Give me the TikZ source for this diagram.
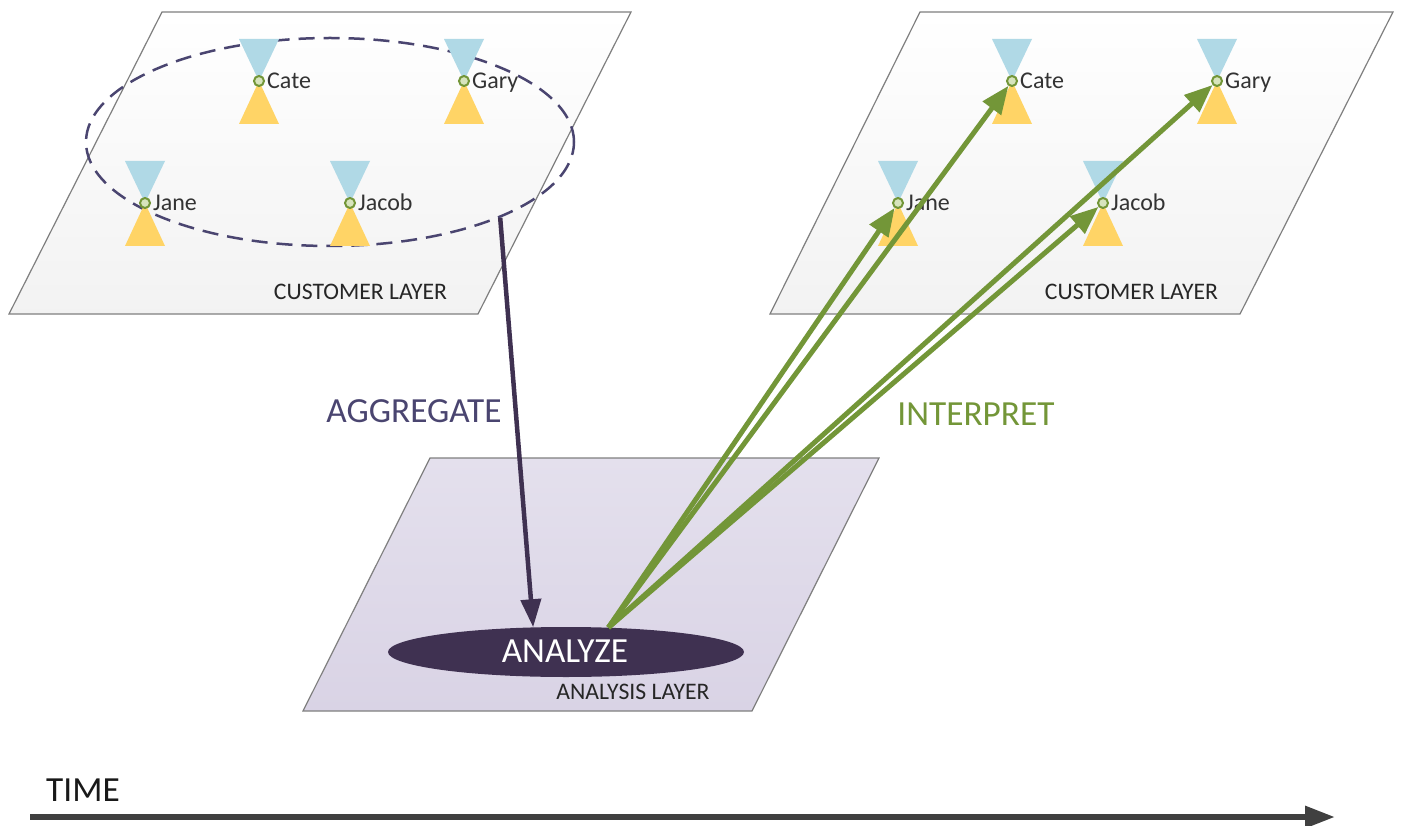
\documentclass[tikz,border=0pt]{standalone}
\usepackage{xcolor}
\usepackage{fontspec}
\setmainfont{Carlito}
\usetikzlibrary{shapes.geometric, arrows.meta}
\definecolor{layergray}{HTML}{7F7F7F}
\definecolor{darkviolet}{HTML}{3F3151}
\definecolor{labelviolet}{HTML}{4A4570}
\definecolor{leafgreen}{HTML}{739638}
\definecolor{topblue}{HTML}{B0D9E6}
\definecolor{lowyellow}{HTML}{FFD466}
\definecolor{dotgreen}{HTML}{D7E4BD}
\definecolor{analysistop}{HTML}{E4E0ED}
\definecolor{analysislow}{HTML}{D9D3E5}
\tikzset{
	layer/.style={draw=layergray, line width=1.2pt, top color=white, bottom color=black!5},
	toptri/.style={fill=topblue},
	lowtri/.style={fill=lowyellow},
	person/.style={circle, draw=leafgreen, fill=dotgreen, line width=2pt, minimum size=10pt, inner sep=0pt},
	namelabel/.style={font=\fontsize{24}{28}\selectfont, text=black!80, inner sep=0pt, anchor=base west},
	layerlabel/.style={font=\fontsize{23.7}{28}\selectfont, text=black!85, inner sep=0pt},
	biglabel/.style={font=\fontsize{35.3}{40}\selectfont, inner sep=0pt},
	aggarrow/.style={draw=darkviolet, line width=4.5pt, -{Triangle[length=28pt, width=20pt]}},
	intarrow/.style={draw=leafgreen, line width=5pt, -{Triangle[length=28pt, width=22pt]}}
}
\newcommand{\hourglass}[4]{
	\fill[toptri] (#2-20,#3-42) -- (#2+20,#3-42) -- (#2,#3) -- cycle;
	\fill[lowtri] (#2,#3) -- (#2+20,#3+43) -- (#2-20,#3+43) -- cycle;
	\node [person] (#1) at (#2,#3) {};
	\node [namelabel] (#1label) at (#2+8,#3+8) {#4};
}

\begin{document}
\begin{tikzpicture}[x=1pt, y=-1pt]
	\useasboundingbox (0,0) rectangle (1402,826);

	\shade[layer] (162,12) -- (631,12) -- (478,314) -- (9,314) -- cycle;
	\shade[layer] (920,12) -- (1393,12) -- (1240,314) -- (770,314) -- cycle;
	\shade[layer, top color=analysistop, bottom color=analysislow] (430,458) -- (879,458) -- (752,711) -- (303,711) -- cycle;

	\node [ellipse, draw=labelviolet, line width=2.5pt, dash pattern=on 16pt off 9pt, minimum width=488pt, minimum height=208pt, inner sep=0pt] (customers) at (330,142) {};

	\hourglass{cateA}{259}{81}{Cate}
	\hourglass{garyA}{464}{81}{Gary}
	\hourglass{janeA}{145}{203}{Jane}
	\hourglass{jacobA}{350}{203}{Jacob}

	\hourglass{cateB}{1012}{81}{Cate}
	\hourglass{garyB}{1217}{81}{Gary}
	\hourglass{janeB}{898}{203}{Jane}
	\hourglass{jacobB}{1103}{203}{Jacob}

	\node [layerlabel] (layerA) at (360.5,292) {CUSTOMER LAYER};
	\node [layerlabel] (layerB) at (1131.5,292) {CUSTOMER LAYER};
	\node [layerlabel] (layerC) at (633,692) {ANALYSIS LAYER};

	\node [ellipse, fill=darkviolet, minimum width=356pt, minimum height=50pt, inner sep=0pt] (analyze) at (566,652) {};
	\node [biglabel, text=white] (analyzelabel) at (565,651) {ANALYZE};

	\draw [aggarrow] (customers.-24) -- (analyze.143);
	\draw [intarrow] (analyze.30) -- (janeB);
	\draw [intarrow] (analyze.30) -- (cateB);
	\draw [intarrow] (analyze.30) -- (jacobB);
	\draw [intarrow] (analyze.30) -- (garyB);

	\node [biglabel, text=labelviolet] (aggregate) at (414,411) {AGGREGATE};
	\node [biglabel, text=leafgreen] (interpret) at (976,414) {INTERPRET};

	\node [biglabel, text=black!90] (time) at (83,790) {TIME};
	\coordinate (timestart) at (30,817);
	\coordinate (timeend) at (1335,817);
	\draw [draw=black!75, line width=6pt, -{Triangle[length=30pt, width=21pt]}] (timestart) -- (timeend);
\end{tikzpicture}
\end{document}
